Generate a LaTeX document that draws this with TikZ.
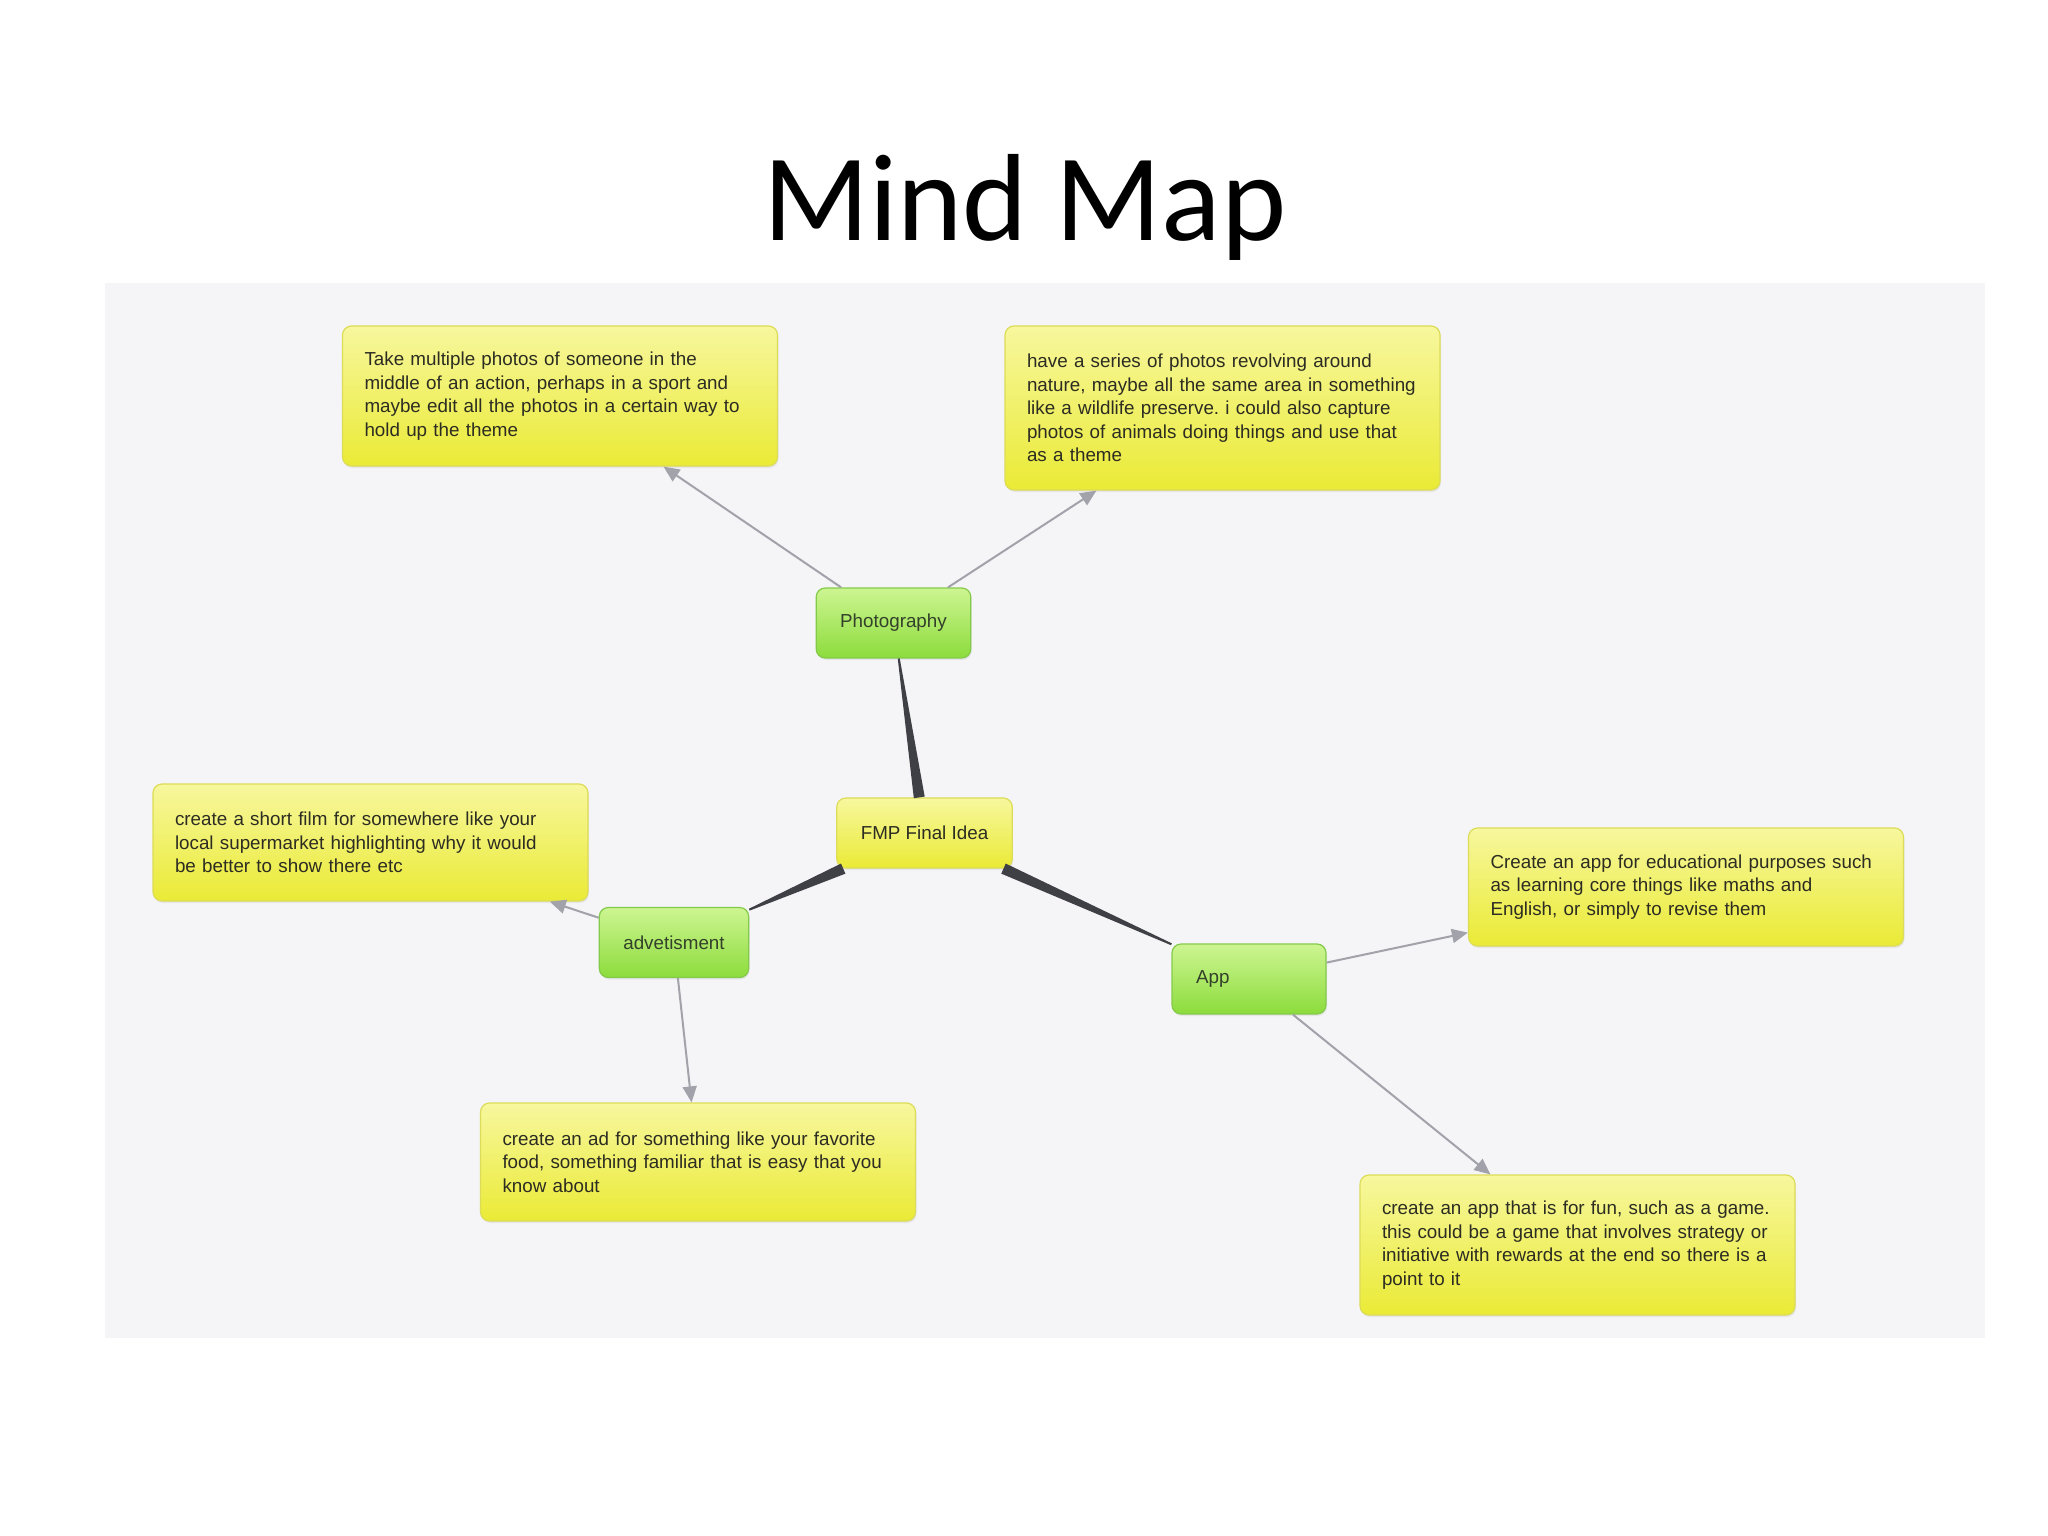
\documentclass[tikz,border=0pt]{standalone}
\usepackage{fontspec}
\setmainfont{Liberation Sans}
\newfontfamily\titlefont{Carlito}
\usetikzlibrary{arrows.meta,calc,shadows}
\frenchspacing

\definecolor{panelgray}{HTML}{F5F5F7}
\definecolor{yellowtop}{HTML}{F7F79E}
\definecolor{yellowbot}{HTML}{EAEA36}
\definecolor{yellowline}{HTML}{DCDC58}
\definecolor{greentop}{HTML}{CDF592}
\definecolor{greenbot}{HTML}{8CDC3C}
\definecolor{greenline}{HTML}{84CA4A}
\definecolor{inkdark}{HTML}{2C2C22}
\definecolor{inkgreen}{HTML}{33402A}
\definecolor{linkgray}{HTML}{A2A2AA}
\definecolor{wedgedark}{HTML}{3F3F46}

\begin{document}
\begin{tikzpicture}[x=1pt, y=-1pt,
  idea/.style={draw=yellowline, line width=1.2pt, rounded corners=9pt,
    top color=yellowtop, bottom color=yellowbot, text=inkdark,
    font=\fontsize{18.8}{23.5}\selectfont, text width=391pt, align=left,
    inner xsep=22pt, inner ysep=0pt,
    drop shadow={opacity=0.12, shadow xshift=1pt, shadow yshift=-2pt}},
  core/.style={idea, text width=, align=center, inner xsep=24pt, minimum height=70pt},
  topic/.style={draw=greenline, line width=1.2pt, rounded corners=9pt,
    top color=greentop, bottom color=greenbot, text=inkgreen,
    font=\fontsize{18.8}{23.5}\selectfont, inner xsep=24pt, minimum height=70pt,
    drop shadow={opacity=0.12, shadow xshift=1pt, shadow yshift=-2pt}},
  link/.style={draw=linkgray, line width=2pt, -{Triangle[length=16pt,width=14pt]}},
  branch/.style={fill=wedgedark}]

\useasboundingbox (0,0) rectangle (2048,1536);
\fill[white] (0,0) rectangle (2048,1536);

% ── TITLE ──
\node[font=\titlefont\fontsize{124}{150}\selectfont, anchor=base] (title) at (1025,240) {Mind Map};

% ── MAP PANEL ──
\fill[panelgray] (105,283) rectangle (1985,1338);

% centre idea
\node[core] (fmp) at (924.5,833) {FMP Final Idea};

% main branches
\node[topic] (photo) at (893.5,623) {Photography};
\node[topic] (advert) at (674,942.5) {advetisment};
\node[topic, text width=106pt, align=left] (app) at (1249,979) {App};

% Photography ideas
\node[idea, minimum height=140pt] (action) at (560,396) {Take multiple photos of someone in the\\
middle of an action, perhaps in a sport and\\
maybe edit all the photos in a certain way to\\
hold up the theme};
\node[idea, minimum height=164pt] (nature) at (1222.5,408) {have a series of photos revolving around\\
nature, maybe all the same area in something\\
like a wildlife preserve. i could also capture\\
photos of animals doing things and use that\\
as a theme};

% advetisment ideas
\node[idea, minimum height=117pt] (film) at (370.5,842.5) {create a short film for somewhere like your\\
local supermarket highlighting why it would\\
be better to show there etc};
\node[idea, minimum height=118pt] (food) at (698,1162) {create an ad for something like your favorite\\
food, something familiar that is easy that you\\
know about};

% App ideas
\node[idea, minimum height=118pt] (school) at (1686,887) {Create an app for educational purposes such\\
as learning core things like maths and\\
English, or simply to revise them};
\node[idea, minimum height=140pt] (game) at (1577.5,1245) {create an app that is for fun, such as a game.\\
this could be a game that involves strategy or\\
initiative with rewards at the end so there is a\\
point to it};

% ── TAPERED BRANCHES FROM THE CENTRE ──
\path (fmp) -- (photo) coordinate[pos=0] (b1s) coordinate[pos=1] (b1e);
\path (fmp) -- (advert) coordinate[pos=0] (b2s) coordinate[pos=1] (b2e);
\path (fmp) -- (app) coordinate[pos=0] (b3s) coordinate[pos=1] (b3e);
\fill[branch] ($(b1s)!5.5pt!90:(b1e)$) -- ($(b1s)!5.5pt!-90:(b1e)$)
  -- ($(b1e)!1pt!90:(b1s)$) -- ($(b1e)!1pt!-90:(b1s)$) -- cycle;
\fill[branch] ($(b2s)!5.5pt!90:(b2e)$) -- ($(b2s)!5.5pt!-90:(b2e)$)
  -- ($(b2e)!1pt!90:(b2s)$) -- ($(b2e)!1pt!-90:(b2s)$) -- cycle;
\fill[branch] ($(b3s)!5.5pt!90:(b3e)$) -- ($(b3s)!5.5pt!-90:(b3e)$)
  -- ($(b3e)!1pt!90:(b3s)$) -- ($(b3e)!1pt!-90:(b3s)$) -- cycle;

% ── ARROWS TO THE IDEAS ──
\draw[link] (photo) -- (action);
\draw[link] (photo) -- (nature);
\draw[link] (advert) -- (film);
\draw[link] (advert) -- (food);
\draw[link] (app) -- (school);
\draw[link] (app) -- (game);

\end{tikzpicture}
\end{document}
